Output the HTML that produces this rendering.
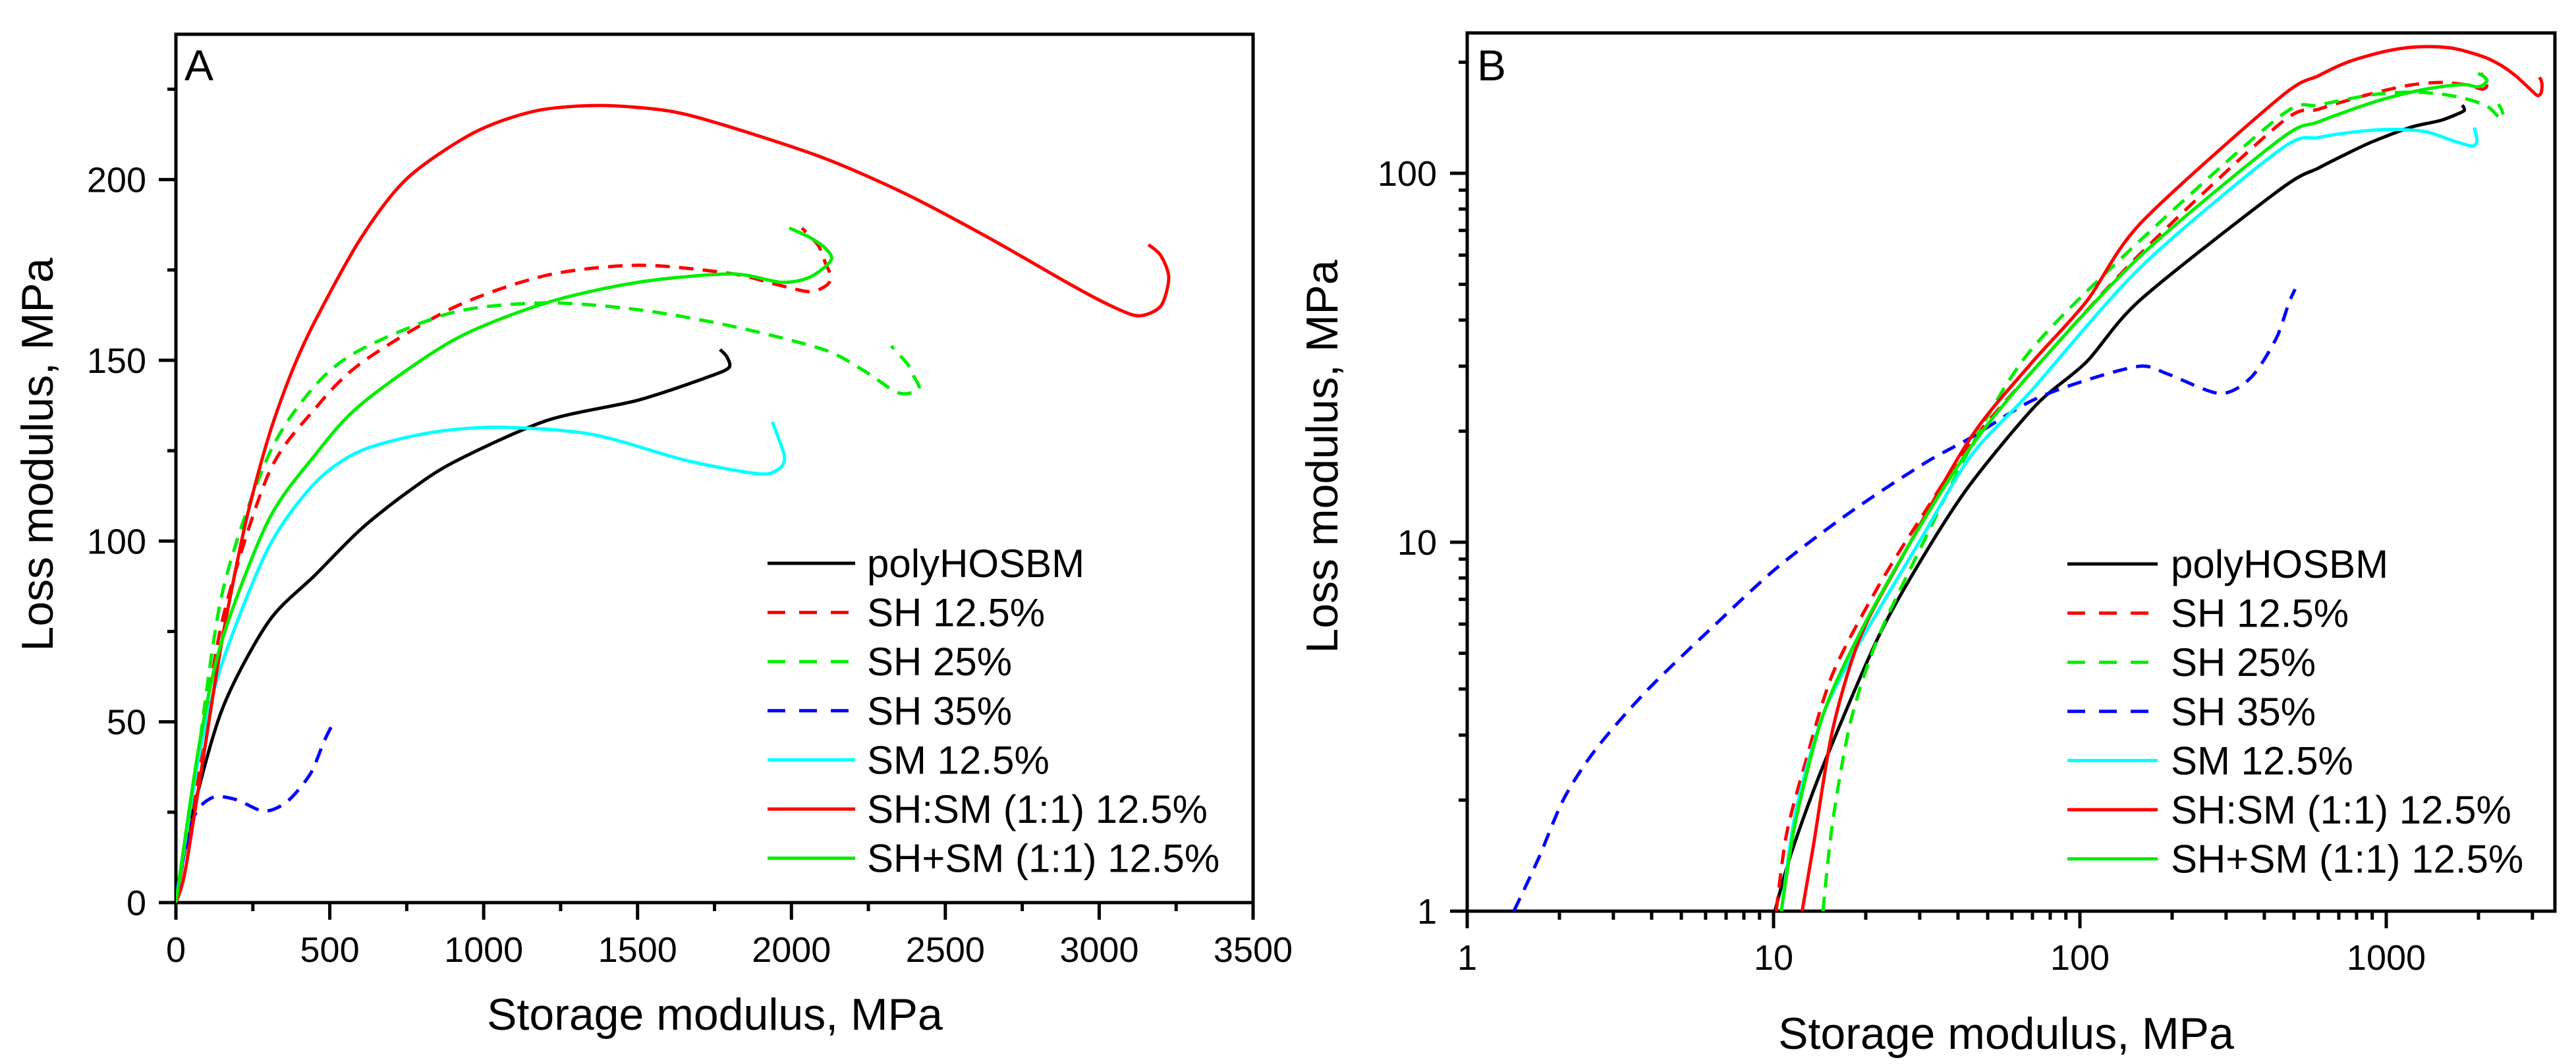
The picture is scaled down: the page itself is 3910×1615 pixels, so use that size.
<!DOCTYPE html>
<html><head><meta charset="utf-8"><style>
html,body{margin:0;padding:0;background:#fff;}
svg{display:block;font-family:"Liberation Sans",Arial,sans-serif;}
</style></head><body>
<svg id="chart" width="3910" height="1615" viewBox="0 0 3910 1615" xmlns="http://www.w3.org/2000/svg">
<defs>
<clipPath id="clipA"><rect x="267" y="52" width="1635" height="1318"/></clipPath>
<clipPath id="clipB"><rect x="2227" y="50" width="1651" height="1333"/></clipPath>
</defs>
<g id="panelA"></g>
<g id="panelB"></g>
</svg>
<script>
// ---- data ----
const seriesNames = ["polyHOSBM","SH 12.5%","SH 25%","SH 35%","SM 12.5%","SH:SM (1:1) 12.5%","SH+SM (1:1) 12.5%"];
const seriesColors = ["#000000","#ff0000","#00ee00","#0000ff","#00ffff","#ff0000","#00ee00"];
const seriesDashed = [false,true,true,true,false,false,false];

const blackX = [0,45,150,301,451,601,752,902,1203,1503,1729,1797,1790,1768];
const blackY = [0,21.5,53.4,77.7,90.5,103.3,113.5,121.8,133.3,139,145.4,148,151,153];
const sh125X = [0,60,150,301,451,601,902,1203,1503,1804,1950,2057,2110,2129,2110,2087,2034];
const sh125Y = [0,30,77.7,118.6,136.5,149.2,164.6,173.5,176.3,174,171,169,170.5,172.9,177,181.8,186.6];
const sh25X = [0,60,150,301,451,601,902,1203,1503,1804,2104,2238,2347,2414,2395,2377,2324];
const sh25Y = [0,33,85.4,123.7,142.9,153,163.3,165.9,164,159.5,153,147,141,142,146,149,154];
const sh35X = [0,15,60,120,195,286,361,436,481,504];
const sh35Y = [2,8.7,24,29.1,28.5,25.3,27.9,35.5,44.5,48.5];
const sm125X = [0,75,150,301,451,601,827,1052,1353,1654,1894,1960,1978,1960,1938];
const sm125Y = [0,40.6,66.2,98.2,116,125,130,131.5,129.5,122.4,118.6,120,123,128,133];
const shsmX = [0,30,90,150,225,301,376,451,601,752,969,1169,1377,1600,1784,2104,2372,2639,2906,3040,3128,3200,3226,3200,3160];
const shsmY = [0,8.7,40.6,72.6,104.5,128.8,146.7,160.7,183.8,200.4,213,219,220.5,219,215,206,196,184,171,165,162.3,165,172.9,179,182];
const shpsmX = [0,75,150,301,451,601,902,1203,1503,1804,1966,2060,2129,2110,2060,1993];
const shpsmY = [0,43.2,72.6,105.8,123.7,137.8,155.6,165.9,171.6,173.9,171.6,173,177.7,181,184,186.6];

// low-modulus region (log panel B)
const blackLowX = [10.1,11.4,14.5,22,31.2,44,71.8,105,158];
const blackLowY = [1,1.43,2.47,5.54,9.31,14.4,23.5,30.8,45.5];
const sh125LowX = [10.2,11,12.6,15.6,22,31.2,44,69,158];
const sh125LowY = [1,1.6,2.47,4.4,7.6,12.1,18.6,28.7,60.7];
const sh25LowX = [14.5,15.6,17.9,22,31.2,44,69,158];
const sh25LowY = [1,1.75,3.3,5.54,10.2,18.1,33.1,66];
const sh35LowX = [1.42,1.71,2.07,2.65,3.88,6.3,10.3,17.9,31.2,44,69,105,158];
const sh35LowY = [1,1.39,2.02,2.77,3.98,5.87,8.55,12.1,16.4,19.2,24.1,27.5,30];
const sm125LowX = [10.6,11.8,14.5,19.2,29,44,69,158];
const sm125LowY = [1,1.85,3.4,5.38,9.6,17.1,25.6,55.7];
const shsmLowX = [12.4,13.5,15.6,19.2,26.2,44,69,105,158];
const shsmLowY = [1,1.51,3.11,5.54,9.06,19.2,30.4,44.9,73.3];
const shpsmLowX = [10.6,11.8,14.5,19.2,29,44,69,158];
const shpsmLowY = [1,1.75,3.4,5.7,10.5,18.1,28.7,59.8];

const aXTicks = [0,500,1000,1500,2000,2500,3000,3500];
const aYTicks = [0,50,100,150,200];
const bXTicks = [1,10,100,1000];
const bYTicks = [1,10,100];

const allX = [blackX,sh125X,sh25X,sh35X,sm125X,shsmX,shpsmX];
const allY = [blackY,sh125Y,sh25Y,sh35Y,sm125Y,shsmY,shpsmY];
const lowX = [blackLowX,sh125LowX,sh25LowX,sh35LowX,sm125LowX,shsmLowX,shpsmLowX];
const lowY = [blackLowY,sh125LowY,sh25LowY,sh35LowY,sm125LowY,shsmLowY,shpsmLowY];

// ---- axes ----
const NS = "http://www.w3.org/2000/svg";
const A = {l:267, r:1902, t:52, b:1370, xmax:3500, ymax:240.2};
const B = {l:2227, r:3878, t:50, b:1383, dec:465, ydec:560};
const ax = v => A.l + v/A.xmax*(A.r-A.l);
const ay = v => A.b - v/A.ymax*(A.b-A.t);
const bx = v => B.l + Math.log10(v)*B.dec;
const by = v => B.b - Math.log10(v)*B.ydec;

function mk(tag, attrs, parent){
  const e = document.createElementNS(NS, tag);
  for (const k in attrs) e.setAttribute(k, attrs[k]);
  parent.appendChild(e);
  return e;
}
function smooth(pts){
  if (pts.length < 2) return "";
  let d = "M"+pts[0][0].toFixed(1)+","+pts[0][1].toFixed(1);
  for (let i=0;i<pts.length-1;i++){
    const p0 = pts[Math.max(0,i-1)], p1 = pts[i], p2 = pts[i+1], p3 = pts[Math.min(pts.length-1,i+2)];
    const t = 0.14;
    const c1x = p1[0]+(p2[0]-p0[0])*t, c1y = p1[1]+(p2[1]-p0[1])*t;
    const c2x = p2[0]-(p3[0]-p1[0])*t, c2y = p2[1]-(p3[1]-p1[1])*t;
    d += " C"+c1x.toFixed(1)+","+c1y.toFixed(1)+" "+c2x.toFixed(1)+","+c2y.toFixed(1)+" "+p2[0].toFixed(1)+","+p2[1].toFixed(1);
  }
  return d;
}
const gA = document.getElementById("panelA");
const gB = document.getElementById("panelB");

// ---- panel A frame ----
let frame = mk("rect",{x:A.l,y:A.t,width:A.r-A.l,height:A.b-A.t,fill:"none",stroke:"#000","stroke-width":5},gA);


for (let v=0; v<=3500; v+=250){
  const major = v%500===0;
  const t = mk("line",{x1:ax(v),x2:ax(v),y1:A.b,y2:A.b+(major?26:13),stroke:"#000","stroke-width":5},gA);
  
  
}
aXTicks.forEach(v=>{
  const t = mk("text",{x:ax(v),y:1460,"font-size":54,"text-anchor":"middle"},gA);
  t.textContent = v;
  
  
});
for (let v=0; v<=225; v+=25){
  const major = v%50===0;
  const t = mk("line",{x1:A.l-(major?26:13),x2:A.l,y1:ay(v),y2:ay(v),stroke:"#000","stroke-width":5},gA);
  
  
}
aYTicks.forEach(v=>{
  const t = mk("text",{x:222,y:ay(v)+19,"font-size":54,"text-anchor":"end"},gA);
  t.textContent = v;
  
  
});
let tA = mk("text",{x:1085,y:1563,"font-size":68,"text-anchor":"middle"},gA);
tA.textContent = "Storage modulus, MPa";


let tyA = mk("text",{x:0,y:0,"font-size":68,"text-anchor":"middle",transform:"translate(80,690) rotate(-90)"},gA);
tyA.textContent = "Loss modulus, MPa";


let lA = mk("text",{x:280,y:122,"font-size":66},gA);
lA.textContent = "A";



// ---- panel B frame ----
let frameB = mk("rect",{x:B.l,y:B.t,width:B.r-B.l,height:B.b-B.t,fill:"none",stroke:"#000","stroke-width":5},gB);


for (let dcd=0; dcd<4; dcd++){
  for (let m=1; m<=9; m++){
    const v = m*Math.pow(10,dcd);
    if (v>3500) break;
    const t = mk("line",{x1:bx(v),x2:bx(v),y1:B.b,y2:B.b+(m===1?26:13),stroke:"#000","stroke-width":5},gB);
    
    
  }
  for (let m=1; m<=9; m++){
    const v = m*Math.pow(10,dcd);
    if (v>240 || dcd>2) break;
    const t = mk("line",{x1:B.l-(m===1?26:13),x2:B.l,y1:by(v),y2:by(v),stroke:"#000","stroke-width":5},gB);
    
    
  }
}
bXTicks.forEach(v=>{
  const t = mk("text",{x:bx(v),y:1472,"font-size":54,"text-anchor":"middle"},gB);
  t.textContent = v;
  
  
});
bYTicks.forEach(v=>{
  const t = mk("text",{x:2181,y:by(v)+19,"font-size":54,"text-anchor":"end"},gB);
  t.textContent = v;
  
  
});
let tB = mk("text",{x:3045,y:1592,"font-size":68,"text-anchor":"middle"},gB);
tB.textContent = "Storage modulus, MPa";


let tyB = mk("text",{x:0,y:0,"font-size":68,"text-anchor":"middle",transform:"translate(2030,693) rotate(-90)"},gB);
tyB.textContent = "Loss modulus, MPa";


let lB = mk("text",{x:2242,y:122,"font-size":66},gB);
lB.textContent = "B";



// ---- series ----
const slug = ["polyhosbm","sh-12-5","sh-25","sh-35","sm-12-5","sh-sm-1-1","sh-plus-sm-1-1"];
for (let i=0;i<7;i++){
  const ptsA = allX[i].map((x,j)=>[ax(x), ay(allY[i][j])]);
  const pa = mk("path",{d:smooth(ptsA),fill:"none",stroke:seriesColors[i],"stroke-width":5,"stroke-linejoin":"round","clip-path":"url(#clipA)"},gA);
  if (seriesDashed[i]) pa.setAttribute("stroke-dasharray","22 14");
  
  

  const lx = lowX[i], ly = lowY[i];
  const last = lx[lx.length-1];
  const thr = i===3 ? last*1.2 : 440;
  const bxs = lx.slice(), bys = ly.slice();
  let started = false;
  allX[i].forEach((x,j)=>{ if (started || (x>=thr && allY[i][j]>0)){ started = true; bxs.push(x); bys.push(allY[i][j]); } });
  const ptsB = bxs.map((x,j)=>[bx(x), by(bys[j])]);
  const pb = mk("path",{d:smooth(ptsB),fill:"none",stroke:seriesColors[i],"stroke-width":5,"stroke-linejoin":"round","clip-path":"url(#clipB)"},gB);
  if (seriesDashed[i]) pb.setAttribute("stroke-dasharray","22 14");
  
  
}

// ---- legends ----
function legend(parent, x0, x1, tx, y0, tag){
  for (let i=0;i<7;i++){
    const y = y0 + i*74.6;
    const ln = mk("line",{x1:x0,x2:x1,y1:y,y2:y,stroke:seriesColors[i],"stroke-width":5},parent);
    if (seriesDashed[i]) ln.setAttribute("stroke-dasharray","27 21");
    
    
    const t = mk("text",{x:tx,y:y+21,"font-size":60},parent);
    t.textContent = seriesNames[i];
    
    
  }
}
legend(gA, 1165, 1298, 1316, 855, "a");
legend(gB, 3138, 3275, 3295, 856, "b");
</script>
</body></html>
